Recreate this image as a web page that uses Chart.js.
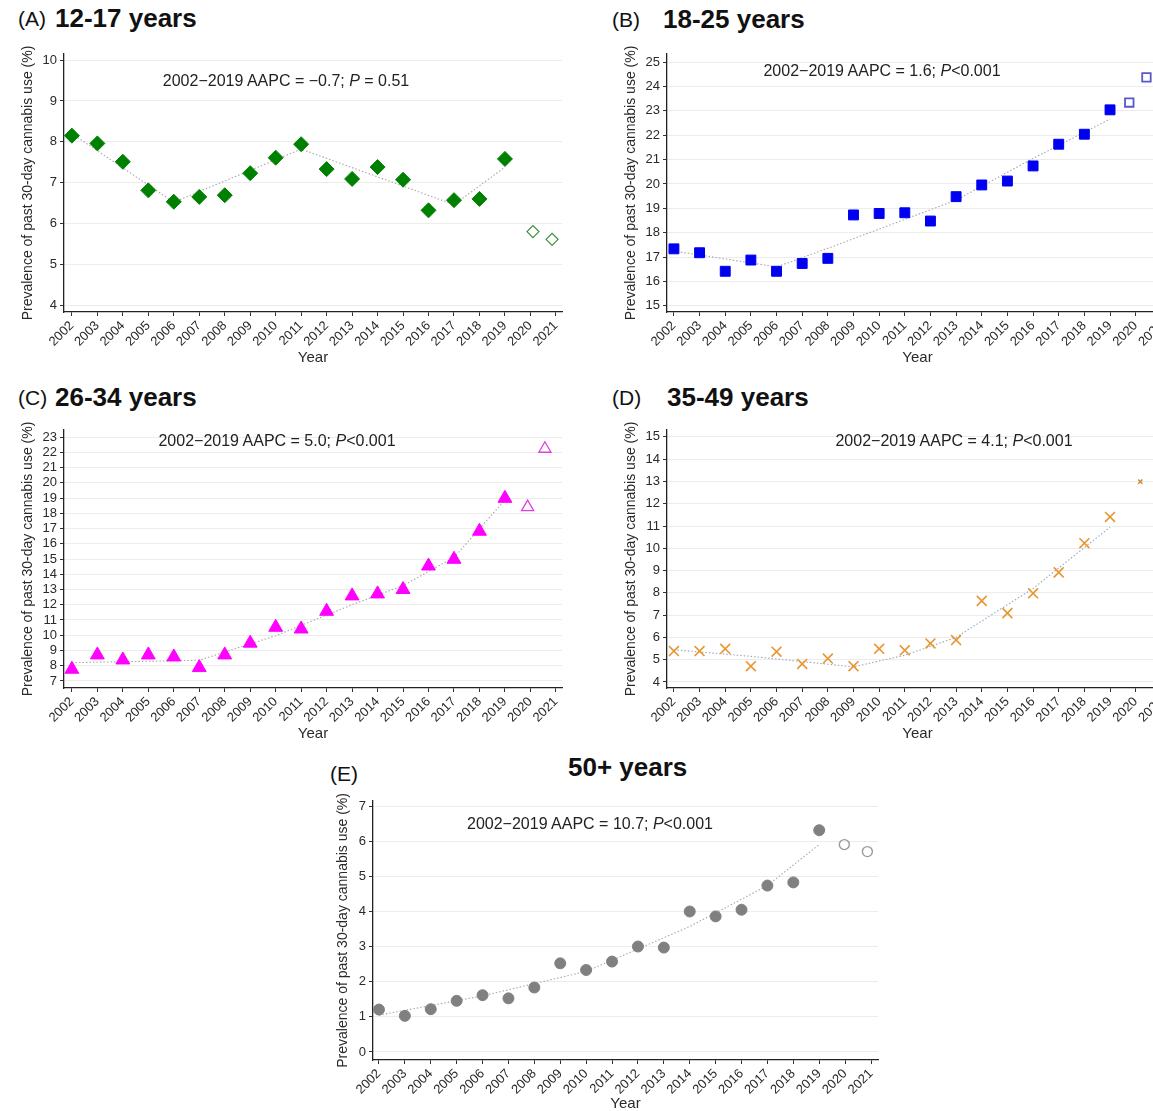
<!DOCTYPE html>
<html>
<head>
<meta charset="utf-8">
<title>Past 30-day cannabis use by age group</title>
<script src="https://cdn.jsdelivr.net/npm/chart.js@4.4.1/dist/chart.umd.min.js"></script>
<style>
  html, body { margin: 0; padding: 0; background: #fff; overflow: hidden; width: 1153px; height: 1111px; }
  body { position: relative; font-family: "Liberation Sans", Arial, sans-serif; color: #111; }
  canvas { position: absolute; }
  .tag { position: absolute; font-size: 21px; line-height: 1; }
  .head { position: absolute; font-size: 26px; font-weight: bold; line-height: 1; }
  .note { position: absolute; font-size: 16px; line-height: 1; color: #222; white-space: nowrap; transform: translate(-50%, -50%); }
</style>
</head>
<body>

<div class="tag" style="left:18px;top:8px">(A)</div>
<div class="head" style="left:55px;top:5px">12-17 years</div>
<div class="tag" style="left:612px;top:9px">(B)</div>
<div class="head" style="left:663px;top:6px">18-25 years</div>
<div class="tag" style="left:18px;top:387px">(C)</div>
<div class="head" style="left:55px;top:384px">26-34 years</div>
<div class="tag" style="left:612px;top:387px">(D)</div>
<div class="head" style="left:667px;top:384px">35-49 years</div>
<div class="tag" style="left:330px;top:763px">(E)</div>
<div class="head" style="left:568px;top:754px">50+ years</div>

<canvas id="chartA" width="580" height="330" style="left:0px;top:40px"></canvas>
<canvas id="chartB" width="580" height="330" style="left:603px;top:40px"></canvas>
<canvas id="chartC" width="580" height="330" style="left:0px;top:416px"></canvas>
<canvas id="chartD" width="580" height="330" style="left:603px;top:416px"></canvas>
<canvas id="chartE" width="580" height="326" style="left:315px;top:790px"></canvas>

<div class="note" style="left:286px;top:81px">2002−2019 AAPC = −0.7; <i>P</i> = 0.51</div>
<div class="note" style="left:882px;top:71px">2002−2019 AAPC = 1.6; <i>P</i>&lt;0.001</div>
<div class="note" style="left:277px;top:441px">2002−2019 AAPC = 5.0; <i>P</i>&lt;0.001</div>
<div class="note" style="left:954px;top:441px">2002−2019 AAPC = 4.1; <i>P</i>&lt;0.001</div>
<div class="note" style="left:590px;top:824px">2002−2019 AAPC = 10.7; <i>P</i>&lt;0.001</div>

<script>
// ====================================
// DATA — prevalence of past 30-day cannabis use (%), by age group
// ====================================

const axisYears = [2002, 2003, 2004, 2005, 2006, 2007, 2008, 2009, 2010, 2011,
                   2012, 2013, 2014, 2015, 2016, 2017, 2018, 2019, 2020, 2021];
const surveyYears = [2002, 2003, 2004, 2005, 2006, 2007, 2008, 2009, 2010,
                     2011, 2012, 2013, 2014, 2015, 2016, 2017, 2018, 2019];

// (A) 12-17 years
const usage12to17 = [8.15, 7.96, 7.51, 6.81, 6.53, 6.65, 6.69, 7.23, 7.61,
                     7.94, 7.33, 7.09, 7.38, 7.07, 6.32, 6.57, 6.60, 7.58];
const pandemicX12to17 = [2020.1, 2020.85];
const pandemic12to17 = [5.80, 5.61];
const trendX12to17 = [2002, 2006, 2011, 2017, 2019];
const trend12to17 = [8.2, 6.52, 7.82, 6.46, 7.38];
const yTicks12to17 = [4, 5, 6, 7, 8, 9, 10];

// (B) 18-25 years
const usage18to25 = [17.34, 17.18, 16.42, 16.88, 16.42, 16.74, 16.95, 18.73, 18.79,
                     18.82, 18.48, 19.48, 19.96, 20.12, 20.74, 21.63, 22.04, 23.04];
const pandemicX18to25 = [2019.75, 2020.42];
const pandemic18to25 = [23.34, 24.37];
const trendX18to25 = [2002, 2006, 2008, 2013, 2016, 2019];
const trend18to25 = [17.25, 16.6, 17.36, 19.34, 21.05, 22.66];
const yTicks18to25 = [15, 16, 17, 18, 19, 20, 21, 22, 23, 24, 25];

// (C) 26-34 years
const usage26to34 = [7.77, 8.71, 8.38, 8.71, 8.58, 7.88, 8.71, 9.48, 10.52,
                     10.41, 11.57, 12.58, 12.71, 13.0, 14.54, 14.98, 16.82, 18.98];
const pandemicX26to34 = [2019.89, 2020.57];
const pandemic26to34 = [18.4, 22.23];
const trendX26to34 = [2002, 2007, 2010, 2013, 2015, 2017, 2019];
const trend26to34 = [8.2, 8.36, 9.97, 12.0, 13.26, 15.1, 18.87];
const yTicks26to34 = [7, 8, 9, 10, 11, 12, 13, 14, 15, 16, 17, 18, 19, 20, 21, 22, 23];

// (D) 35-49 years
const usage35to49 = [5.39, 5.39, 5.49, 4.71, 5.36, 4.81, 5.05, 4.71, 5.49,
                     5.42, 5.73, 5.88, 7.64, 7.09, 7.98, 8.92, 10.23, 11.41];
const pandemicX35to49 = [2020.18];
const pandemic35to49 = [12.99];
const trendX35to49 = [2002, 2005, 2009, 2011, 2013, 2016, 2019];
const trend35to49 = [5.45, 5.15, 4.68, 5.2, 6.0, 8.2, 10.95];
const yTicks35to49 = [4, 5, 6, 7, 8, 9, 10, 11, 12, 13, 14, 15];

// (E) 50+ years
const usage50plus = [1.21, 1.03, 1.22, 1.46, 1.62, 1.53, 1.84, 2.53, 2.34,
                     2.58, 3.01, 2.98, 4.01, 3.87, 4.06, 4.75, 4.84, 6.33];
const pandemicX50plus = [2019.97, 2020.86];
const pandemic50plus = [5.92, 5.72];
const trendX50plus = [2002, 2006, 2010, 2014, 2017, 2019];
const trend50plus = [1.05, 1.6, 2.3, 3.58, 4.75, 5.92];
const yTicks50plus = [0, 1, 2, 3, 4, 5, 6, 7];

const yAxisTitle = 'Prevalence of past 30-day cannabis use (%)';

// ====================================
// PANEL BUILDER
// ====================================

function toPoints(xs, ys) {
  return xs.map((x, i) => ({ x: x, y: ys[i] }));
}

function drawPanel(canvasId, p) {
  const ctx = document.getElementById(canvasId).getContext('2d');

  return new Chart(ctx, {
    type: 'scatter',
    data: {
      datasets: [
        {
          // observed 2002-2019
          data: toPoints(surveyYears, p.values),
          pointStyle: p.shape,
          pointRadius: p.radius,
          backgroundColor: p.color,
          borderColor: p.color,
          borderWidth: p.lineWidth || 1,
          clip: false,
          order: 0
        },
        {
          // 2020-2021, hollow markers
          data: toPoints(p.openX, p.openValues),
          pointStyle: p.shape,
          pointRadius: p.openRadius,
          backgroundColor: 'rgba(255,255,255,0)',
          borderColor: p.openColor,
          borderWidth: p.openWidth,
          clip: false,
          order: 1
        },
        {
          // joinpoint trend
          data: toPoints(p.trendX, p.trend),
          showLine: true,
          pointRadius: 0,
          borderColor: p.trendColor || '#a8a8a8',
          borderWidth: 1.1,
          borderDash: [1.5, 2],
          fill: false,
          clip: false,
          order: 2
        }
      ]
    },
    options: {
      responsive: false,
      animation: false,
      events: [],
      layout: { padding: { top: p.padTop, right: p.padRight, left: 0, bottom: 0 } },
      plugins: {
        legend: { display: false },
        tooltip: { enabled: false }
      },
      scales: {
        x: {
          type: 'linear',
          min: p.xMin,
          max: p.xMax,
          afterBuildTicks: s => { s.ticks = axisYears.map(v => ({ value: v })); },
          afterFit: s => { s.height = p.xHeight; },
          ticks: {
            autoSkip: false,
            minRotation: 45,
            maxRotation: 45,
            padding: 2,
            color: '#2a2a2a',
            font: { size: 13 },
            callback: v => String(v)
          },
          grid: { drawOnChartArea: false, tickLength: 4, tickColor: '#333' },
          border: { color: '#222', width: 1.3 },
          title: { display: true, text: 'Year', color: '#2a2a2a', font: { size: 15 }, padding: { top: 0, bottom: 3 } }
        },
        y: {
          min: p.yMin,
          max: p.yMax,
          afterBuildTicks: s => { s.ticks = p.yTicks.map(v => ({ value: v })); },
          afterFit: s => { s.width = p.yWidth; },
          ticks: { autoSkip: false, color: '#2a2a2a', font: { size: 13 }, padding: 3 },
          grid: { color: '#ececec', lineWidth: 1, tickLength: 4, tickColor: '#333' },
          border: { color: '#222', width: 1.3 },
          title: { display: true, text: yAxisTitle, color: '#2a2a2a', font: { size: 14 }, padding: { top: 20, bottom: 0 } }
        }
      }
    }
  });
}

// ====================================
// RENDER ALL FIVE PANELS
// ====================================

drawPanel('chartA', {
  values: usage12to17, openX: pandemicX12to17, openValues: pandemic12to17,
  trendX: trendX12to17, trend: trend12to17, yTicks: yTicks12to17,
  shape: 'rectRot', radius: 7.5, openRadius: 6, openWidth: 1.2,
  color: '#008000', openColor: '#3a8f3a',
  xMin: 2001.69, xMax: 2021.24, yMin: 3.83, yMax: 10.15,
  yWidth: 64, xHeight: 58, padTop: 14, padRight: 18
});

drawPanel('chartB', {
  values: usage18to25, openX: pandemicX18to25, openValues: pandemic18to25,
  trendX: trendX18to25, trend: trend18to25, yTicks: yTicks18to25,
  shape: 'rect', radius: 7, openRadius: 6, openWidth: 1.8,
  color: '#0000f0', openColor: '#5858cc',
  xMin: 2001.73, xMax: 2021.26, yMin: 14.75, yMax: 25.33,
  yWidth: 64, xHeight: 58, padTop: 14, padRight: 15
});

drawPanel('chartC', {
  values: usage26to34, openX: pandemicX26to34, openValues: pandemic26to34,
  trendX: trendX26to34, trend: trend26to34, yTicks: yTicks26to34,
  shape: 'triangle', radius: 8, openRadius: 7, openWidth: 1.3,
  color: '#ff00ff', openColor: '#e040e0',
  xMin: 2001.69, xMax: 2021.24, yMin: 6.54, yMax: 23.46,
  yWidth: 64, xHeight: 58, padTop: 14, padRight: 18
});

drawPanel('chartD', {
  values: usage35to49, openX: pandemicX35to49, openValues: pandemic35to49,
  trendX: trendX35to49, trend: trend35to49, yTicks: yTicks35to49,
  shape: 'crossRot', radius: 7, lineWidth: 1.6, openRadius: 3, openWidth: 1.5,
  color: '#e8952f', openColor: '#d08a3a', trendColor: '#9aa6c0',
  xMin: 2001.73, xMax: 2021.26, yMin: 3.73, yMax: 15.31,
  yWidth: 64, xHeight: 58, padTop: 14, padRight: 15
});

drawPanel('chartE', {
  values: usage50plus, openX: pandemicX50plus, openValues: pandemic50plus,
  trendX: trendX50plus, trend: trend50plus, yTicks: yTicks50plus,
  shape: 'circle', radius: 5.5, openRadius: 5, openWidth: 1.4,
  color: '#808080', openColor: '#9a9a9a',
  xMin: 2001.77, xMax: 2021.27, yMin: -0.23, yMax: 7.17,
  yWidth: 58, xHeight: 56, padTop: 10, padRight: 17
});
</script>
</body>
</html>
